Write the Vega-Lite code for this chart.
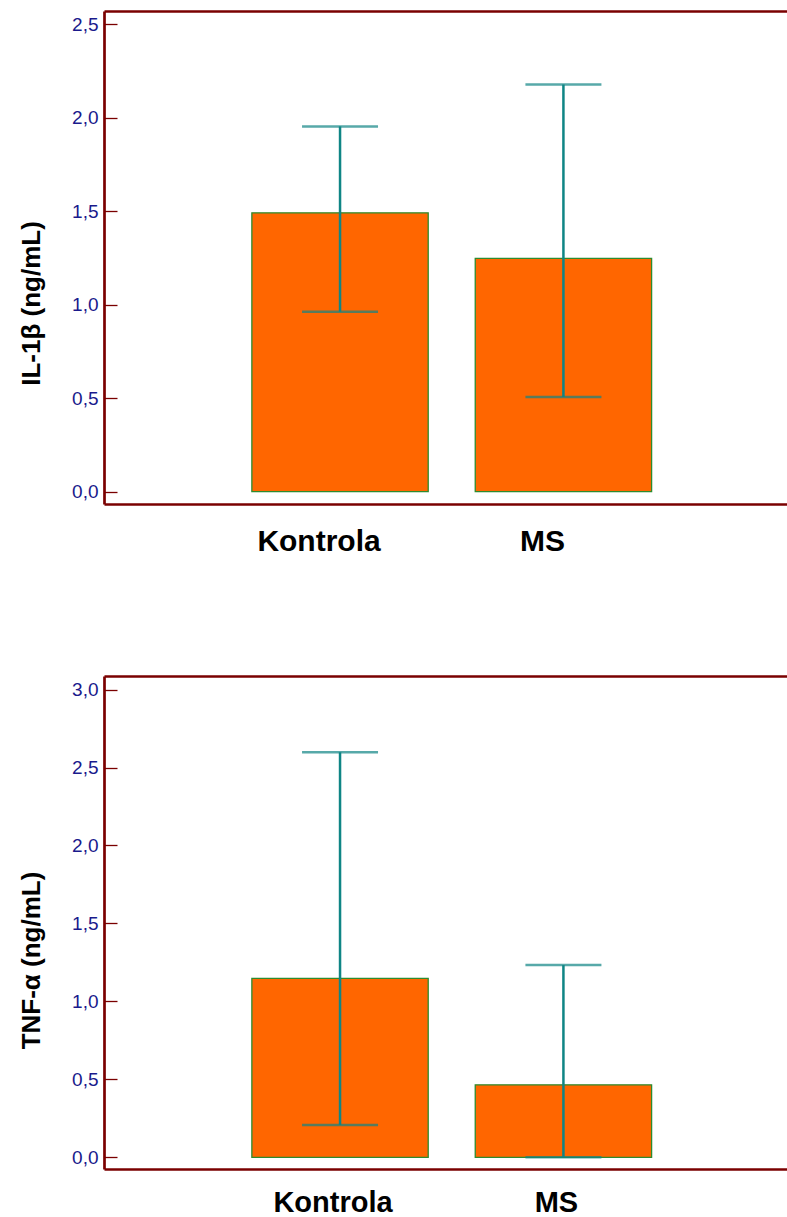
{
  "$schema": "https://vega.github.io/schema/vega-lite/v6.json",
  "padding": {"top": 11, "left": 18, "right": 0, "bottom": 0},
  "background": "white",
  "spacing": 120,
  "config": {
    "view": {"stroke": null},
    "font": "Liberation Sans",
    "axis": {"grid": false, "domainColor": "#7a0000", "domainWidth": 2.7}
  },
  "vconcat": [
    {
      "width": 683,
      "height": 493,
      "data": {"values": [
        {"group": "Kontrola", "mean": 1.491, "lo": 0.962, "hi": 1.953},
        {"group": "MS", "mean": 1.247, "lo": 0.506, "hi": 2.177}
      ]},
      "layer": [
        {
          "mark": {"type": "bar", "fill": "#ff6600", "stroke": "#2e8b2e", "strokeWidth": 1.3},
          "encoding": {
            "x": {"field": "group", "type": "nominal", "sort": null,
              "scale": {"type": "band", "paddingInner": 0.2105, "paddingOuter": 0.634, "align": 0.522},
              "axis": {"orient": "bottom", "title": null, "ticks": false, "tickSize": 0, "labelAngle": 0, "labelPadding": 22, "labelOffset": -21,
                "labelFontSize": 30, "labelFontWeight": "bold", "labelColor": "black", "labelFont": "Liberation Sans"}},
            "y": {"field": "mean", "type": "quantitative",
              "scale": {"domain": [-0.066, 2.57], "nice": false, "zero": false},
              "axis": {"title": "IL-1β (ng/mL)", "values": [0, 0.5, 1, 1.5, 2, 2.5],
                "labelExpr": "replace(format(datum.value, '.1f'), '.', ',')",
                "tickSize": -13, "tickColor": "#7a0000", "tickWidth": 1.3, "labelPadding": 19,
                "labelFontSize": 19, "labelColor": "#1a1a8c", "labelFont": "Liberation Sans",
                "titleFontSize": 26, "titleFontWeight": "bold", "titleColor": "black", "titleFont": "Liberation Sans",
                "titleAngle": -90, "titleAlign": "center", "titleBaseline": "alphabetic", "titleX": -64.7, "titleY": 292}}
          }
        },
        {
          "mark": {"type": "rule", "color": "#0f8585", "strokeWidth": 2.5},
          "encoding": {
            "x": {"field": "group", "type": "nominal", "sort": null,
              "axis": {"orient": "top", "title": null, "labels": false, "ticks": false, "domain": true}},
            "y": {"field": "lo", "type": "quantitative", "axis": null},
            "y2": {"field": "hi"}
          }
        },
        {
          "mark": {"type": "tick", "color": "#0f8585", "thickness": 2.5, "size": 76},
          "encoding": {
            "x": {"field": "group", "type": "nominal", "sort": null, "axis": null},
            "y": {"field": "lo", "type": "quantitative", "axis": null}
          }
        },
        {
          "mark": {"type": "tick", "color": "#0f8585", "thickness": 2.5, "size": 76},
          "encoding": {
            "x": {"field": "group", "type": "nominal", "sort": null, "axis": null},
            "y": {"field": "hi", "type": "quantitative", "axis": null}
          }
        }
      ],
      "resolve": {"axis": {"x": "independent", "y": "independent"}}
    },
    {
      "width": 683,
      "height": 493,
      "data": {"values": [
        {"group": "Kontrola", "mean": 1.147, "lo": 0.207, "hi": 2.598},
        {"group": "MS", "mean": 0.465, "lo": 0.0, "hi": 1.233}
      ]},
      "layer": [
        {
          "mark": {"type": "bar", "fill": "#ff6600", "stroke": "#2e8b2e", "strokeWidth": 1.3},
          "encoding": {
            "x": {"field": "group", "type": "nominal", "sort": null,
              "scale": {"type": "band", "paddingInner": 0.2105, "paddingOuter": 0.634, "align": 0.522},
              "axis": {"orient": "bottom", "title": null, "ticks": false, "tickSize": 0, "labelAngle": 0, "labelPadding": 19, "labelOffset": -7,
                "labelFontSize": 29, "labelFontWeight": "bold", "labelColor": "black", "labelFont": "Liberation Sans"}},
            "y": {"field": "mean", "type": "quantitative",
              "scale": {"domain": [-0.075, 3.087], "nice": false, "zero": false},
              "axis": {"title": "TNF-α (ng/mL)", "values": [0, 0.5, 1, 1.5, 2, 2.5, 3],
                "labelExpr": "replace(format(datum.value, '.1f'), '.', ',')",
                "tickSize": -13, "tickColor": "#7a0000", "tickWidth": 1.3, "labelPadding": 19,
                "labelFontSize": 19, "labelColor": "#1a1a8c", "labelFont": "Liberation Sans",
                "titleFontSize": 26, "titleFontWeight": "bold", "titleColor": "black", "titleFont": "Liberation Sans",
                "titleAngle": -90, "titleAlign": "center", "titleBaseline": "alphabetic", "titleX": -64.7, "titleY": 284}}
          }
        },
        {
          "mark": {"type": "rule", "color": "#0f8585", "strokeWidth": 2.5},
          "encoding": {
            "x": {"field": "group", "type": "nominal", "sort": null,
              "axis": {"orient": "top", "title": null, "labels": false, "ticks": false, "domain": true}},
            "y": {"field": "lo", "type": "quantitative", "axis": null},
            "y2": {"field": "hi"}
          }
        },
        {
          "mark": {"type": "tick", "color": "#0f8585", "thickness": 2.5, "size": 76},
          "encoding": {
            "x": {"field": "group", "type": "nominal", "sort": null, "axis": null},
            "y": {"field": "lo", "type": "quantitative", "axis": null}
          }
        },
        {
          "mark": {"type": "tick", "color": "#0f8585", "thickness": 2.5, "size": 76},
          "encoding": {
            "x": {"field": "group", "type": "nominal", "sort": null, "axis": null},
            "y": {"field": "hi", "type": "quantitative", "axis": null}
          }
        }
      ],
      "resolve": {"axis": {"x": "independent", "y": "independent"}}
    }
  ]
}
